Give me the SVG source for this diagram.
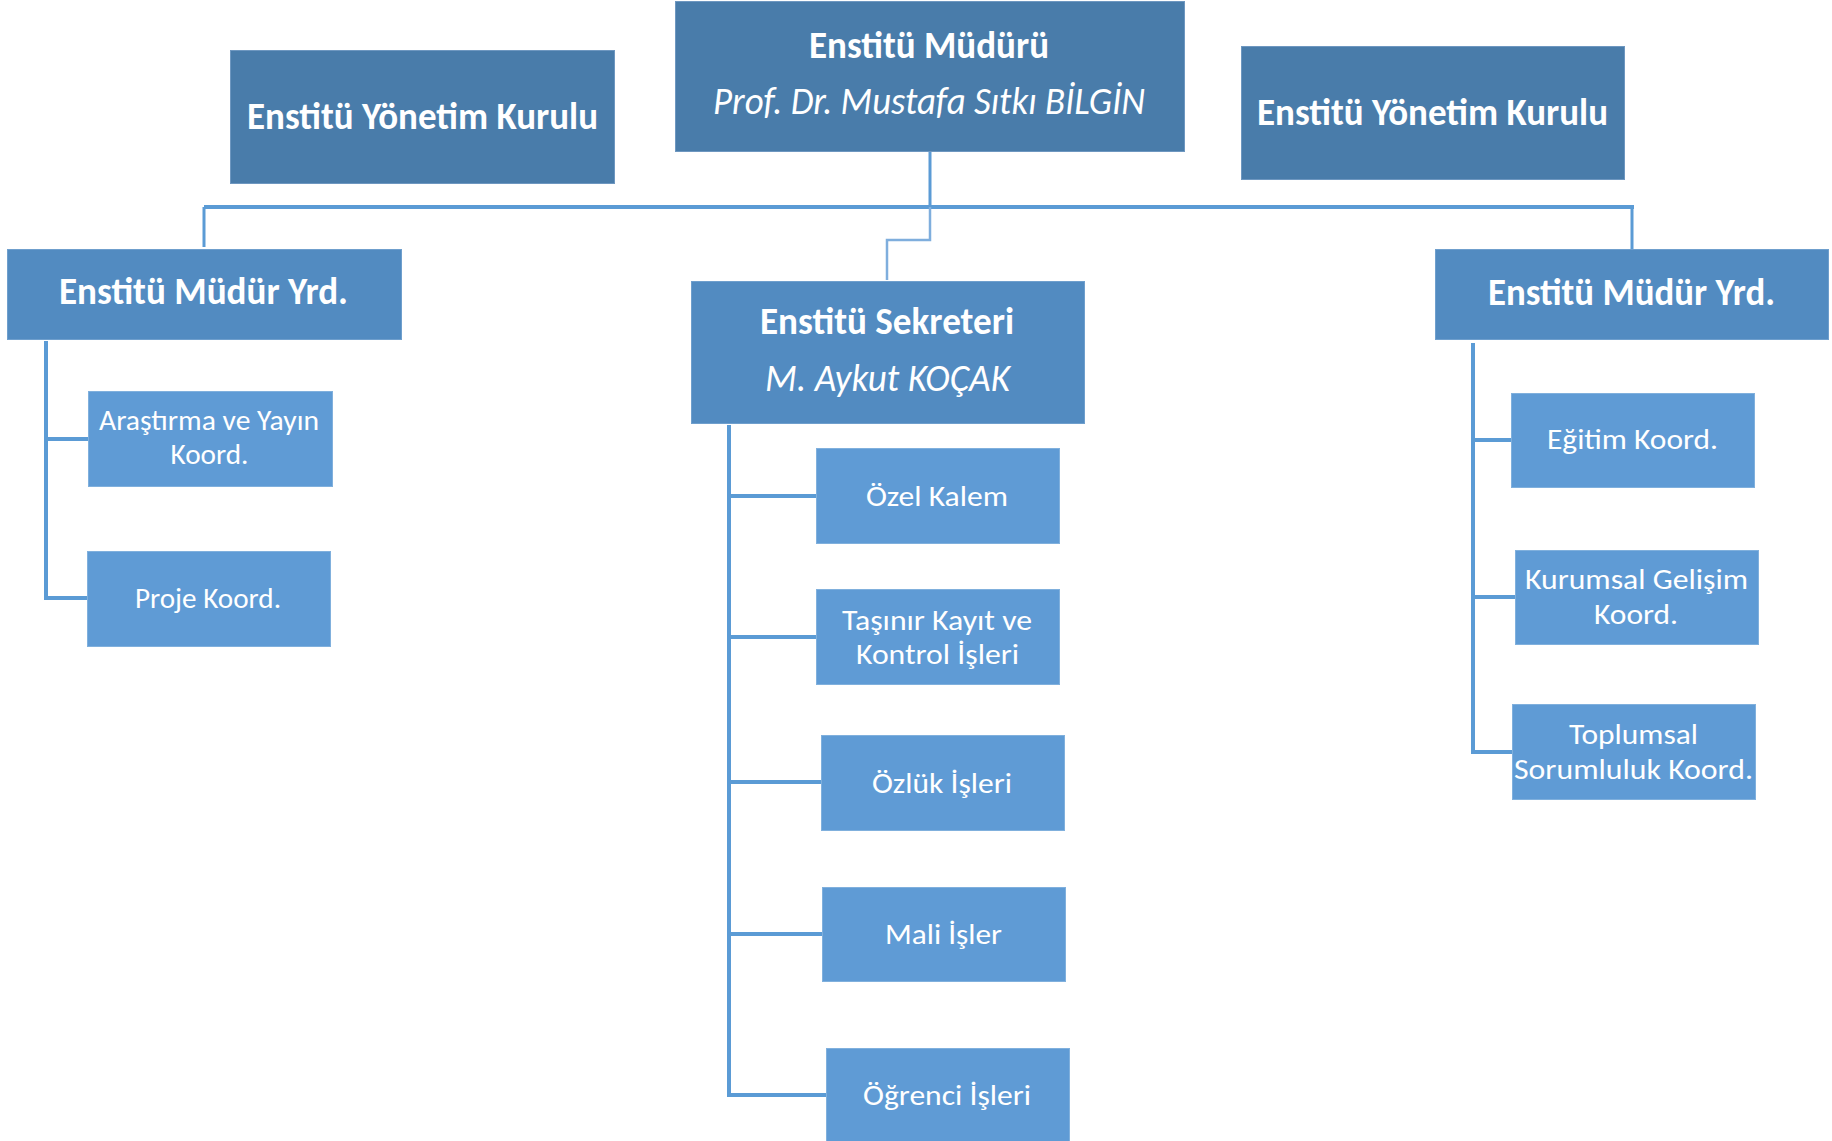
<svg xmlns="http://www.w3.org/2000/svg" width="1832" height="1141" viewBox="0 0 1832 1141">
<style>
.top{fill:#497CAA;stroke:#6E97C0;stroke-width:1}
.mid{fill:#528BC1;stroke:#6F9FCD;stroke-width:1}
.leaf{fill:#5F9BD5;stroke:#80B0DD;stroke-width:1}
text{fill:#FFFFFF;font-family:Carlito,'Open Sans','Noto Sans',sans-serif;text-anchor:middle}
.h{font-size:38px;font-weight:bold}
.i{font-size:38px;font-style:italic}
.r{font-size:29px}
.c{fill:none;stroke:#5B9BD5;stroke-linecap:butt}
</style>
<g id="connectors">
<path class="c" d="M930 151 V207" stroke-width="3"/>
<path class="c" d="M204 207 H1634" stroke-width="4"/>
<path class="c" d="M204 207 V247" stroke-width="3"/>
<path class="c" d="M1632 207 V249" stroke-width="3"/>
<path class="c" d="M930 207 V240 H887 V280" stroke-width="2.5" style="stroke:#7FAEDD"/>
<path class="c" d="M46 341 V600 M44 439 H88 M44 598 H87" stroke-width="4"/>
<path class="c" d="M729 425 V1097 M727 496 H816 M727 637 H816 M727 782 H821 M727 934 H822 M727 1095 H826" stroke-width="4"/>
<path class="c" d="M1473 343 V754 M1471 440 H1511 M1471 597 H1515 M1471 752 H1512" stroke-width="4"/>
</g>
<g id="mudur">
<rect class="top" x="675.5" y="1.5" width="509" height="150"/>
<text class="h" x="929" y="58" textLength="240" lengthAdjust="spacingAndGlyphs">Enstitü Müdürü</text>
<text class="i" x="929" y="114" textLength="432" lengthAdjust="spacingAndGlyphs">Prof. Dr. Mustafa Sıtkı BİLGİN</text>
</g>
<g id="yk-left">
<rect class="top" x="230.5" y="50.5" width="384" height="133"/>
<text class="h" x="422.5" y="129" textLength="351" lengthAdjust="spacingAndGlyphs">Enstitü Yönetim Kurulu</text>
</g>
<g id="yk-right">
<rect class="top" x="1241.5" y="46.5" width="383" height="133"/>
<text class="h" x="1432.5" y="125" textLength="351" lengthAdjust="spacingAndGlyphs">Enstitü Yönetim Kurulu</text>
</g>
<g id="yrd-left">
<rect class="mid" x="7.5" y="249.5" width="394" height="90"/>
<text class="h" x="203.5" y="304" textLength="289" lengthAdjust="spacingAndGlyphs">Enstitü Müdür Yrd.</text>
</g>
<g id="sekreter">
<rect class="mid" x="691.5" y="281.5" width="393" height="142"/>
<text class="h" x="887" y="334" textLength="254" lengthAdjust="spacingAndGlyphs">Enstitü Sekreteri</text>
<text class="i" x="887.5" y="391" textLength="245" lengthAdjust="spacingAndGlyphs">M. Aykut KOÇAK</text>
</g>
<g id="yrd-right">
<rect class="mid" x="1435.5" y="249.5" width="393" height="90"/>
<text class="h" x="1631.5" y="305" textLength="287" lengthAdjust="spacingAndGlyphs">Enstitü Müdür Yrd.</text>
</g>
<g id="arastirma">
<rect class="leaf" x="88.5" y="391.5" width="244" height="95"/>
<text class="r" x="209" y="430" textLength="220" lengthAdjust="spacingAndGlyphs">Araştırma ve Yayın</text>
<text class="r" x="209.5" y="464" textLength="78" lengthAdjust="spacingAndGlyphs">Koord.</text>
</g>
<g id="proje">
<rect class="leaf" x="87.5" y="551.5" width="243" height="95"/>
<text class="r" x="208" y="608" textLength="146" lengthAdjust="spacingAndGlyphs">Proje Koord.</text>
</g>
<g id="ozel-kalem">
<rect class="leaf" x="816.5" y="448.5" width="243" height="95"/>
<text class="r" x="937" y="506" textLength="142" lengthAdjust="spacingAndGlyphs">Özel Kalem</text>
</g>
<g id="tasinir">
<rect class="leaf" x="816.5" y="589.5" width="243" height="95"/>
<text class="r" x="937" y="630" textLength="190" lengthAdjust="spacingAndGlyphs">Taşınır Kayıt ve</text>
<text class="r" x="937.5" y="664" textLength="163" lengthAdjust="spacingAndGlyphs">Kontrol İşleri</text>
</g>
<g id="ozluk">
<rect class="leaf" x="821.5" y="735.5" width="243" height="95"/>
<text class="r" x="942" y="793" textLength="140" lengthAdjust="spacingAndGlyphs">Özlük İşleri</text>
</g>
<g id="mali">
<rect class="leaf" x="822.5" y="887.5" width="243" height="94"/>
<text class="r" x="943.5" y="944" textLength="117" lengthAdjust="spacingAndGlyphs">Mali İşler</text>
</g>
<g id="ogrenci">
<rect class="leaf" x="826.5" y="1048.5" width="243" height="100"/>
<text class="r" x="947" y="1105" textLength="168" lengthAdjust="spacingAndGlyphs">Öğrenci İşleri</text>
</g>
<g id="egitim">
<rect class="leaf" x="1511.5" y="393.5" width="243" height="94"/>
<text class="r" x="1632.5" y="449" textLength="171" lengthAdjust="spacingAndGlyphs">Eğitim Koord.</text>
</g>
<g id="kurumsal">
<rect class="leaf" x="1515.5" y="550.5" width="243" height="94"/>
<text class="r" x="1636.5" y="589" textLength="223" lengthAdjust="spacingAndGlyphs">Kurumsal Gelişim</text>
<text class="r" x="1636" y="624" textLength="84" lengthAdjust="spacingAndGlyphs">Koord.</text>
</g>
<g id="toplumsal">
<rect class="leaf" x="1512.5" y="704.5" width="243" height="95"/>
<text class="r" x="1633.5" y="744" textLength="129" lengthAdjust="spacingAndGlyphs">Toplumsal</text>
<text class="r" x="1633.5" y="779" textLength="239" lengthAdjust="spacingAndGlyphs">Sorumluluk Koord.</text>
</g>
</svg>
